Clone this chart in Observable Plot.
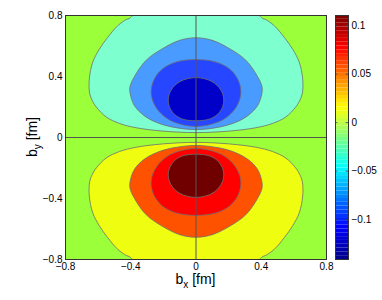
<!DOCTYPE html>
<html><head><meta charset="utf-8">
<script src="https://cdn.jsdelivr.net/npm/d3@7"></script>
<script src="https://cdn.jsdelivr.net/npm/@observablehq/plot@0.6"></script>
<style>
html,body{margin:0;padding:0;background:#fff;}
#wrap{position:relative;width:382px;height:300px;font-family:"Liberation Sans",Arial,sans-serif;}
#wrap svg{position:absolute;left:0;top:0;overflow:visible;}
</style></head><body><div id="wrap"></div>
<script>
// axis ticks
const xTicks = [-0.8, -0.4, 0, 0.4, 0.8];
const yTicks = [-0.8, -0.4, 0, 0.4, 0.8];
const cbTicks = [-0.1, -0.05, 0, 0.05, 0.1];
const cbDomain = [-0.141, 0.1103];

// fill colours of the contour bands (outermost first)
const backgroundFill = "#9bff3a";
const upperFills = ["#7dffcf", "#4a9bff", "#2746ff", "#0000c8"];
const lowerFills = ["#effe10", "#ff5200", "#ff0000", "#700000"];

// right-half boundaries [bx, by] of the upper contours (lower half is the mirror image, opposite sign)
const edgeOuter = [[0,0.8],[0.2,0.8],[0.387,0.8],[0.408,0.781],[0.428,0.773],[0.479,0.734],[0.541,0.657],[0.592,0.580],[0.633,0.494],[0.654,0.384],[0.652,0.29],[0.635,0.24],[0.610,0.198],[0.551,0.135],[0.469,0.092],[0.367,0.064],[0.203,0.042],[0,0.032]];
const edgeSecond = [[0,0.654],[0.10,0.637],[0.203,0.584],[0.305,0.507],[0.377,0.400],[0.405,0.33],[0.400,0.27],[0.375,0.205],[0.320,0.145],[0.244,0.100],[0.141,0.068],[0,0.052]];
const edgeThird = [[0,0.511],[0.121,0.495],[0.203,0.452],[0.254,0.387],[0.275,0.31],[0.265,0.24],[0.228,0.172],[0.168,0.118],[0.095,0.087],[0,0.072]];
const edgeInner = [[0,0.393],[0.100,0.366],[0.152,0.312],[0.170,0.252],[0.162,0.199],[0.131,0.151],[0.080,0.120],[0,0.110]];
const edges = [edgeOuter, edgeSecond, edgeThird, edgeInner];

// jet colormap anchors
const jetStops = [0, 0.125, 0.375, 0.625, 0.875, 1];
const jetColors = ["#00008f", "#0000ff", "#00ffff", "#ffff00", "#ff0000", "#800000"];

const fmt = d => String(d).replace("-", "\u2212");
const loop = (edge, sign) => {
  const right = edge.map(([x, y]) => ({bx: x, by: sign * y}));
  const left = edge.slice(1, -1).reverse().map(([x, y]) => ({bx: -x, by: sign * y}));
  return right.concat(left);
};

const contourMarks = [];
edges.forEach((edge, i) => {
  contourMarks.push(Plot.line(loop(edge, 1), {x: "bx", y: "by", curve: "catmull-rom-closed", fill: upperFills[i], stroke: "#6e6e6e", strokeWidth: 0.8, clip: true}));
  contourMarks.push(Plot.line(loop(edge, -1), {x: "bx", y: "by", curve: "catmull-rom-closed", fill: lowerFills[i], stroke: "#6e6e6e", strokeWidth: 0.8, clip: true}));
});

const font = "'Liberation Sans', Arial, sans-serif";
const main = Plot.plot({
  width: 382, height: 300,
  marginLeft: 65, marginRight: 56, marginTop: 15, marginBottom: 41,
  style: {fontFamily: font, fontSize: "10px", color: "#000", background: "transparent"},
  x: {domain: [-0.8, 0.8]},
  y: {domain: [-0.8, 0.8]},
  marks: [
    Plot.frame({fill: backgroundFill, stroke: null}),
    ...contourMarks,
    Plot.ruleX([0], {stroke: "#555", strokeWidth: 1}),
    Plot.ruleY([0], {stroke: "#555", strokeWidth: 1}),
    Plot.frame({stroke: "#333", strokeWidth: 1}),
    Plot.axisX({ticks: xTicks, tickSize: 0, tickPadding: 3, tickFormat: fmt, label: null}),
    Plot.axisY({ticks: yTicks, tickSize: 0, tickPadding: 3, tickFormat: fmt, label: null})
  ]
});

const cells = d3.range(64).map(i => ({
  y1: cbDomain[0] + i * (cbDomain[1] - cbDomain[0]) / 64,
  y2: cbDomain[0] + (i + 1) * (cbDomain[1] - cbDomain[0]) / 64,
  t: i / 63
}));
const jet = d3.scaleLinear().domain(jetStops).range(jetColors).interpolate(d3.interpolateRgb);

const bar = Plot.plot({
  width: 382, height: 300,
  marginLeft: 335, marginRight: 34, marginTop: 15, marginBottom: 41,
  style: {fontFamily: font, fontSize: "10px", color: "#000", background: "transparent"},
  x: {domain: [0, 1], axis: null},
  y: {domain: cbDomain},
  marks: [
    Plot.rect(cells, {x1: 0, x2: 1, y1: "y1", y2: "y2", fill: d => jet(d.t), inset: 0}),
    Plot.ruleY(cbTicks, {x1: 0, x2: 0.18, stroke: "#444", strokeWidth: 0.8}),
    Plot.ruleY(cbTicks, {x1: 0.82, x2: 1, stroke: "#444", strokeWidth: 0.8}),
    Plot.frame({stroke: "#333", strokeWidth: 1}),
    Plot.axisY({anchor: "right", ticks: cbTicks, tickSize: 0, tickPadding: 3, tickFormat: fmt, label: null})
  ]
});

const wrap = document.getElementById("wrap");
wrap.appendChild(main);
wrap.appendChild(bar);

const svg = d3.select(main);
const xl = svg.append("text").attr("x", 195.5).attr("y", 284).attr("text-anchor", "middle")
  .attr("font-size", 14).attr("font-family", font).attr("fill", "#000");
xl.append("tspan").text("b");
xl.append("tspan").attr("dy", 4).attr("font-size", 10).text("x");
xl.append("tspan").attr("dy", -4).text(" [fm]");

const yl = svg.append("text").attr("transform", "translate(37,137) rotate(-90)").attr("text-anchor", "middle")
  .attr("font-size", 14).attr("font-family", font).attr("fill", "#000");
yl.append("tspan").text("b");
yl.append("tspan").attr("dy", 4).attr("font-size", 10).text("y");
yl.append("tspan").attr("dy", -4).text(" [fm]");
</script>
</body></html>
